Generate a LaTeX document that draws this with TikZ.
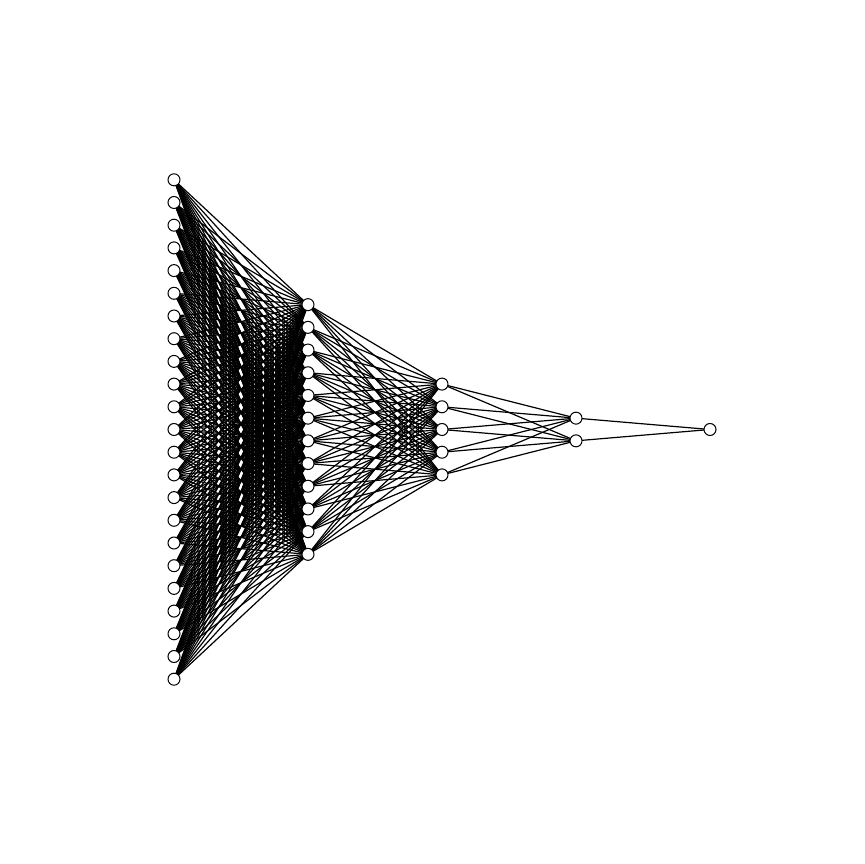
\documentclass[tikz,border=0pt]{standalone}
\usepackage{tikz}
\usetikzlibrary{backgrounds}
\tikzset{neuron/.style={circle,draw,fill=white,inner sep=0pt,minimum size=12bp,line width=1bp},
  weight/.style={line width=1.2bp}}

\begin{document}
\begin{tikzpicture}[x=1bp,y=1bp]
  \useasboundingbox (0,0) rectangle (864,864);
  % neurons, layer by layer
  \foreach \l/\n in {1/23,2/12,3/5,4/2,5/1} {
    \foreach \i in {1,...,\n}
      \node[neuron] (n\l-\i) at ({174+134*(\l-1)},{434.5+22.7*((\n+1)/2-\i)}) {};
  }
  % weights
  \begin{scope}[on background layer]
    \foreach \l/\n/\m in {1/23/12,2/12/5,3/5/2,4/2/1} {
      \pgfmathtruncatemacro\nxt{\l+1}
      \foreach \i in {1,...,\n}
        \foreach \j in {1,...,\m}
          \draw[weight] (n\l-\i.center) -- (n\nxt-\j.center);
    }
  \end{scope}
\end{tikzpicture}
\end{document}
